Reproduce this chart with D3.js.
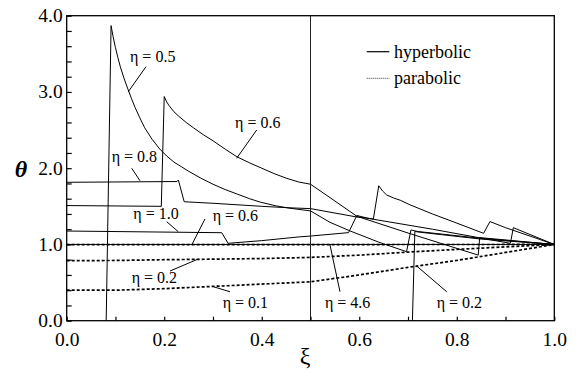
<!DOCTYPE html>
<html>
<head>
<meta charset="utf-8">
<script src="https://cdn.jsdelivr.net/npm/d3@7"></script>
<style>
  html, body { margin: 0; padding: 0; background: #fff; }
  svg { display: block; }
</style>
</head>
<body>
<div id="chart"></div>
<script>
// ---------- data ----------
const xTickValues = [0, 0.1, 0.2, 0.3, 0.4, 0.5, 0.6, 0.7, 0.8, 0.9, 1.0];
const xTickLabels = ["0.0", "0.2", "0.4", "0.6", "0.8", "1.0"];
const yTickValues = [0, 0.2, 0.4, 0.6, 0.8, 1.0, 1.2, 1.4, 1.6, 1.8, 2.0, 2.2, 2.4, 2.6, 2.8, 3.0, 3.2, 3.4, 3.6, 3.8, 4.0];
const yTickLabels = ["0.0", "1.0", "2.0", "3.0", "4.0"];
const interfaceXi = 0.5;

// hyperbolic model [xi, theta]
const hypEta02 = [[0.709,0],[0.714,1.17],[0.725,1.16],[0.85,1.07],[1.0,1.0]];
const hypEta05 = [[0.081,0],[0.091,3.87],[0.095,3.73],[0.1,3.58],[0.105,3.45],[0.11,3.33],[0.118,3.17],[0.126,3.03],[0.133,2.91],[0.14,2.80],[0.15,2.66],[0.16,2.53],[0.175,2.38],[0.191,2.25],[0.205,2.16],[0.22,2.08],[0.235,2.02],[0.25,1.96],[0.275,1.87],[0.3,1.79],[0.325,1.72],[0.35,1.66],[0.375,1.60],[0.397,1.555],[0.43,1.505],[0.458,1.475],[0.5,1.44],[0.54,1.29],[0.58,1.18],[0.64,1.03],[0.697,0.905],[0.706,1.19],[0.72,1.17],[0.85,1.08],[1.0,1.0]];
const hypEta06 = [[0,1.51],[0.194,1.50],[0.2,2.94],[0.205,2.87],[0.21,2.82],[0.22,2.74],[0.23,2.68],[0.245,2.60],[0.26,2.53],[0.28,2.44],[0.3,2.36],[0.325,2.25],[0.349,2.15],[0.375,2.07],[0.4,2.0],[0.425,1.93],[0.45,1.87],[0.475,1.82],[0.5,1.79],[0.55,1.57],[0.595,1.37],[0.7,1.15],[0.844,0.86],[0.847,1.09],[1.0,1.0]];
const hypEta08 = [[0,1.815],[0.226,1.825],[0.229,1.845],[0.241,1.56],[0.3,1.54],[0.4,1.50],[0.458,1.48],[0.5,1.47],[0.595,1.36],[0.629,1.335],[0.64,1.77],[0.648,1.70],[0.656,1.65],[0.67,1.61],[0.684,1.58],[0.704,1.52],[0.75,1.40],[0.80,1.28],[0.855,1.146],[0.868,1.30],[0.9,1.22],[0.95,1.11],[1.0,1.0]];
const hypEta10 = [[0,1.176],[0.318,1.154],[0.331,1.015],[0.4,1.05],[0.478,1.10],[0.5,1.11],[0.578,1.155],[0.595,1.38],[0.62,1.34],[0.75,1.20],[0.87,1.06],[0.91,1.015],[0.916,1.22],[1.0,1.0]];
const hypEta46 = [[0,1.0],[1.0,1.0]];

// parabolic model [xi, theta]
const parEta01 = [[0,0.40],[0.1,0.40],[0.2,0.42],[0.3,0.45],[0.4,0.48],[0.5,0.51],[0.6,0.60],[0.7,0.70],[0.8,0.79],[0.9,0.895],[1.0,1.0]];
const parEta02 = [[0,0.787],[0.1,0.79],[0.2,0.80],[0.3,0.807],[0.4,0.815],[0.5,0.83],[0.6,0.86],[0.7,0.90],[0.8,0.935],[0.9,0.968],[1.0,1.0]];
const parEta06 = [[0,0.997],[1.0,1.0]];

const hyperbolicSeries = [hypEta02, hypEta05, hypEta06, hypEta08, hypEta10, hypEta46];
const parabolicSeries = [parEta01, parEta02, parEta06];

// annotations: text, text anchor [xi, theta], leader from [xi,theta] to [xi,theta]
const annotations = [
  {t:"η = 0.5", at:[0.1298,3.389], from:[0.1626,3.331], to:[0.1263,3.003]},
  {t:"η = 0.6", at:[0.3452,2.527], from:[0.3897,2.501], to:[0.3486,2.130]},
  {t:"η = 0.8", at:[0.0923,2.085], from:[0.1333,1.999], to:[0.1503,1.836]},
  {t:"η = 1.0", at:[0.1366,1.334], from:[0.2051,1.298], to:[0.2289,1.167]},
  {t:"η = 0.6", at:[0.2994,1.308], from:[0.2836,1.334], to:[0.2564,0.993]},
  {t:"η = 0.2", at:[0.1333,0.490], from:[0.2119,0.652], to:[0.2699,0.809]},
  {t:"η = 0.1", at:[0.3199,0.163], from:[0.3007,0.446], to:[0.3349,0.380]},
  {t:"η = 4.6", at:[0.5297,0.163], from:[0.5605,0.380], to:[0.5400,0.993]},
  {t:"η = 0.2", at:[0.7588,0.163], from:[0.7793,0.380], to:[0.7178,0.717]}
];
const legendLabels = ["hyperbolic", "parabolic"];

// ---------- layout ----------
const FONT = "'Liberation Serif', 'Times New Roman', Times, 'DejaVu Serif', serif";
const W = 579, H = 372;
const mLeft = 66.7, mRight = 554.3, mTop = 15.7, mBottom = 320.7;

const svg = d3.select("#chart").append("svg").attr("width", W).attr("height", H)
  .attr("font-family", FONT);
svg.append("rect").attr("width", W).attr("height", H).attr("fill", "#fff");

const x = d3.scaleLinear().domain([0, 1]).range([mLeft, mRight]);
const y = d3.scaleLinear().domain([0, 4]).range([mBottom, mTop]);

const line = d3.line().x(d => x(d[0])).y(d => y(d[1]));

// curves
const g = svg.append("g");
g.selectAll("path.par").data(parabolicSeries).join("path")
  .attr("class", "par").attr("d", line).attr("fill", "none")
  .attr("stroke", "#000").attr("stroke-width", 1.7).attr("stroke-dasharray", "3,2");
g.selectAll("path.hyp").data(hyperbolicSeries).join("path")
  .attr("class", "hyp").attr("d", line).attr("fill", "none")
  .attr("stroke", "#000").attr("stroke-width", 1).attr("stroke-linejoin", "round");

// interface line
svg.append("line").attr("x1", x(interfaceXi)).attr("x2", x(interfaceXi))
  .attr("y1", y(0)).attr("y2", y(4)).attr("stroke", "#222").attr("stroke-width", 1);

// frame
svg.append("rect").attr("x", mLeft).attr("y", mTop).attr("width", mRight - mLeft).attr("height", mBottom - mTop)
  .attr("fill", "none").attr("stroke", "#000").attr("stroke-width", 1.3);

// x axis
const xAxis = d3.axisBottom(x).tickValues(xTickValues).tickSizeInner(-4).tickSizeOuter(0)
  .tickFormat(d => { const i = Math.round(d * 10); return i % 2 === 0 ? xTickLabels[i / 2] : ""; });
const gx = svg.append("g").attr("transform", `translate(0,${mBottom})`).call(xAxis)
  .attr("font-family", FONT).attr("font-size", 19.5);
gx.select(".domain").remove();
gx.selectAll(".tick line").attr("stroke", "#000").attr("stroke-width", 1.2);
gx.selectAll(".tick text").attr("dy", null).attr("y", 25).attr("fill", "#000");

// y axis
const yAxis = d3.axisLeft(y).tickValues(yTickValues).tickSizeInner(-5).tickSizeOuter(0)
  .tickFormat(d => { const i = Math.round(d * 5); return i % 5 === 0 ? yTickLabels[i / 5] : ""; });
const gy = svg.append("g").attr("transform", `translate(${mLeft},0)`).call(yAxis)
  .attr("font-family", FONT).attr("font-size", 19.5);
gy.select(".domain").remove();
gy.selectAll(".tick line").attr("stroke", "#000").attr("stroke-width", 1.2);
gy.selectAll(".tick text").attr("x", -4).attr("dy", "0.3em").attr("fill", "#000");

// axis titles
svg.append("text").attr("x", 21).attr("y", 177).attr("text-anchor", "middle")
  .attr("font-size", 24).attr("font-style", "italic").attr("font-weight", "bold").text("θ");
svg.append("text").attr("x", 305).attr("y", 364).attr("text-anchor", "middle")
  .attr("font-size", 24).text("ξ");

// annotations
const ann = svg.append("g");
annotations.forEach(a => {
  ann.append("text").attr("x", x(a.at[0])).attr("y", y(a.at[1]))
    .attr("font-size", 16).text(a.t);
  ann.append("line").attr("x1", x(a.from[0])).attr("y1", y(a.from[1]))
    .attr("x2", x(a.to[0])).attr("y2", y(a.to[1])).attr("stroke", "#000").attr("stroke-width", 1);
});

// legend
const lg = svg.append("g");
lg.append("line").attr("x1", 366.7).attr("x2", 389.3).attr("y1", 51.7).attr("y2", 51.7)
  .attr("stroke", "#000").attr("stroke-width", 1.2);
lg.append("text").attr("x", 394).attr("y", 57.5).attr("font-size", 18).text(legendLabels[0]);
lg.append("line").attr("x1", 366.7).attr("x2", 389.3).attr("y1", 78.3).attr("y2", 78.3)
  .attr("stroke", "#000").attr("stroke-width", 0.8).attr("stroke-dasharray", "1,1");
lg.append("text").attr("x", 394).attr("y", 84).attr("font-size", 18).text(legendLabels[1]);
</script>
</body>
</html>
